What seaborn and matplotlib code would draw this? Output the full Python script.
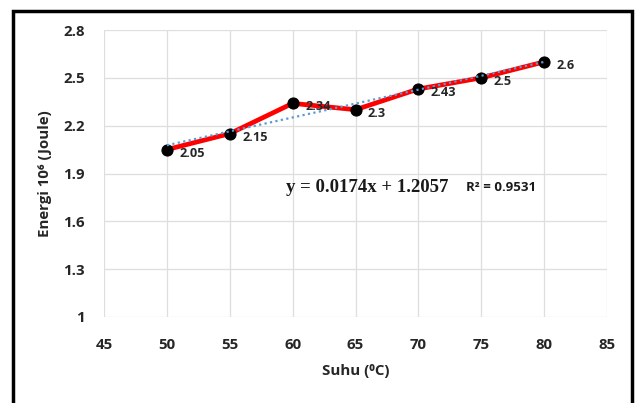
import numpy as np
import pandas as pd
import matplotlib
matplotlib.use("Agg")
import matplotlib.pyplot as plt
import seaborn as sns
from matplotlib.patches import Rectangle

# data
suhu = [50, 55, 60, 65, 70, 75, 80]
energi = [2.05, 2.15, 2.34, 2.3, 2.43, 2.5, 2.6]
xticks = [45, 50, 55, 60, 65, 70, 75, 80, 85]
yticks = [1, 1.3, 1.6, 1.9, 2.2, 2.5, 2.8]
r2 = 0.9531

df = pd.DataFrame({"Suhu": suhu, "Energi": energi})

sns.set_theme(style="whitegrid")
plt.rcParams["font.family"] = ["Open Sans", "DejaVu Sans"]

fig = plt.figure(figsize=(6.36, 4.03), dpi=100)
ax = fig.add_axes([104 / 636, 1 - 317 / 403, 503 / 636, 287 / 403])

# trendline (linear fit)
a, b = np.polyfit(suhu, energi, 1)
xs = np.array([suhu[0], suhu[-1]])
ax.plot(xs, a * xs + b, color="#5B9BD5", lw=1.6, ls=(0, (1, 1.5)), zorder=4)

sns.lineplot(data=df, x="Suhu", y="Energi", ax=ax, color="red", lw=3.4,
             marker="o", markersize=8, markerfacecolor="black",
             markeredgecolor="black", zorder=3)

for xv, yv in zip(suhu, energi):
    ax.annotate(f"{yv:g}", (xv, yv), xytext=(9, -5), textcoords="offset points",
                fontsize=9.2, fontweight="bold", color="#262626", zorder=5)

ax.set_xlim(45, 85)
ax.set_ylim(1, 2.8)
ax.set_xticks(xticks)
ax.set_yticks(yticks)
ax.set_yticklabels([f"{v:g}" for v in yticks])
ax.grid(True, color="#DEDEDE", lw=0.9)
for s in ax.spines.values():
    s.set_visible(False)
ax.tick_params(axis="both", length=0, labelsize=10.8, labelcolor="#262626")
ax.tick_params(axis="x", pad=15)
ax.tick_params(axis="y", pad=14)
for lab in ax.get_xticklabels() + ax.get_yticklabels():
    lab.set_fontweight("bold")

ax.set_xlabel("Suhu (\u2070C)", fontsize=10.8, fontweight="bold", color="#262626", labelpad=9)
ax.set_ylabel("Energi 10\u2076 (Joule)", fontsize=10.8, fontweight="bold", color="#262626", labelpad=8)

ax.text(65.9, 1.81, f"y = {a:.4f}x + {b:.4f}", fontsize=13.5, fontweight="bold",
        family="Liberation Serif", ha="center", va="center", color="#1a1a1a")
ax.text(76.6, 1.81, f"R\u00b2 = {r2}", fontsize=9.5, fontweight="bold",
        ha="center", va="center", color="#1a1a1a")

# outer frame
fig.patches.append(Rectangle((13 / 636, -0.05), 619 / 636, 1 - 11 / 403 + 0.05,
                             transform=fig.transFigure, fill=False,
                             edgecolor="black", lw=2.5))

fig.savefig("out.png", dpi=100)
